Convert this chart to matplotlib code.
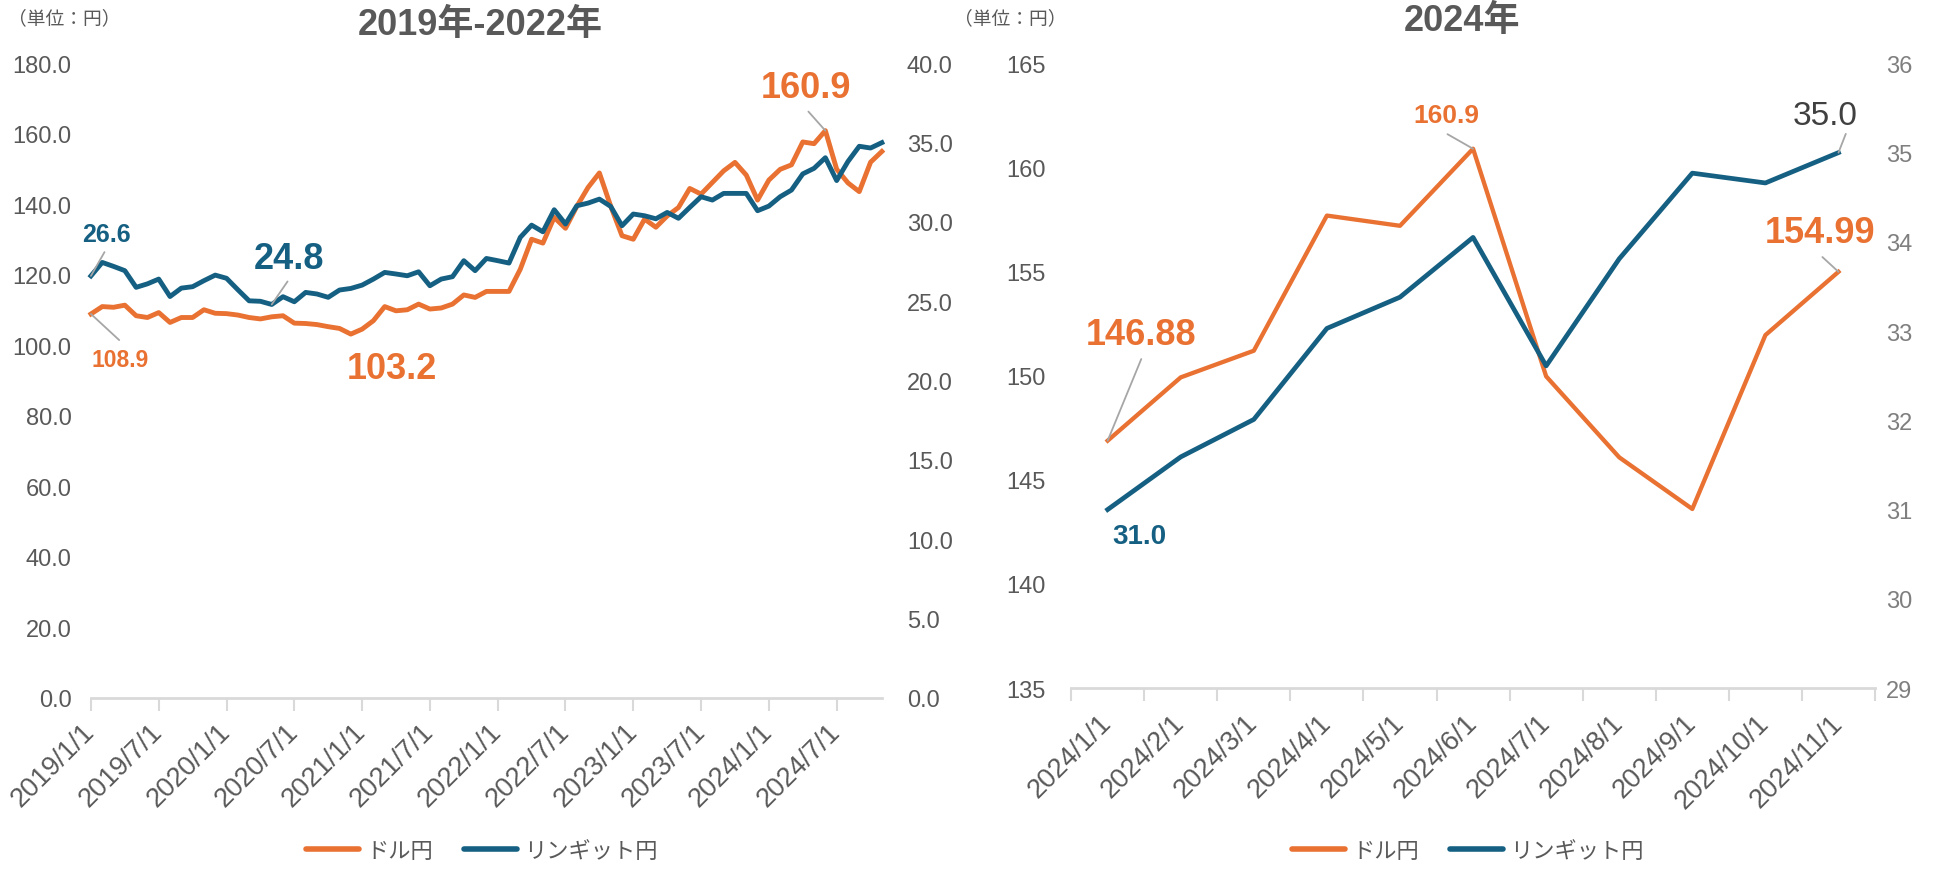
import matplotlib
matplotlib.use("Agg")
import matplotlib.pyplot as plt
from matplotlib.lines import Line2D

plt.rcParams['font.family'] = ['Liberation Sans', 'Noto Sans CJK JP']

ORANGE = '#E97132'
BLUE = '#156082'
GRAY = '#595959'
LEADER = '#A6A6A6'

# --- data: 2019/1 - 2024/11 monthly ---
long_ticks = ["2019/1/1", "2019/7/1", "2020/1/1", "2020/7/1", "2021/1/1", "2021/7/1",
              "2022/1/1", "2022/7/1", "2023/1/1", "2023/7/1", "2024/1/1", "2024/7/1"]
usd_jpy_long = [108.9, 111.0, 110.8, 111.4, 108.4, 107.9, 109.3, 106.5, 107.9, 107.9, 110.1, 109.1,
                109.0, 108.6, 107.9, 107.5, 108.1, 108.4, 106.3, 106.2, 105.9, 105.3, 104.8, 103.2,
                104.6, 107.0, 111.0, 109.8, 110.1, 111.7, 110.3, 110.6, 111.7, 114.3, 113.6, 115.3,
                115.3, 115.3, 121.6, 130.1, 129.0, 136.3, 133.2, 139.4, 144.8, 148.9, 139.5, 131.1,
                130.1, 135.8, 133.5, 136.7, 139.1, 144.5, 142.9, 146.2, 149.5, 151.9, 148.3, 141.2,
                146.88, 149.92, 151.2, 157.69, 157.2, 160.9, 149.97, 146.08, 143.6, 151.95, 154.99]
myr_jpy_long = [26.6, 27.45, 27.2, 26.93, 25.88, 26.1, 26.4, 25.3, 25.83, 25.92, 26.3, 26.65,
                26.45, 25.73, 25.03, 25.0, 24.8, 25.29, 24.97, 25.56, 25.46, 25.25, 25.71, 25.81,
                26.02, 26.4, 26.82, 26.72, 26.61, 26.86, 25.98, 26.4, 26.55, 27.56, 26.93, 27.7,
                27.56, 27.41, 29.03, 29.8, 29.38, 30.77, 29.87, 31.02, 31.19, 31.44, 30.98, 29.76,
                30.5, 30.39, 30.2, 30.6, 30.23, 30.92, 31.59, 31.38, 31.8, 31.8, 31.8, 30.71,
                31.0, 31.59, 32.01, 33.03, 33.38, 34.05, 32.61, 33.81, 34.77, 34.66, 35.0]

# --- data: 2024 ---
months_2024 = ["2024/1/1", "2024/2/1", "2024/3/1", "2024/4/1", "2024/5/1", "2024/6/1",
               "2024/7/1", "2024/8/1", "2024/9/1", "2024/10/1", "2024/11/1"]
usd_jpy_2024 = [146.88, 149.92, 151.2, 157.69, 157.2, 160.9, 149.97, 146.08, 143.6, 151.95, 154.99]
myr_jpy_2024 = [31.0, 31.59, 32.01, 33.03, 33.38, 34.05, 32.61, 33.81, 34.77, 34.66, 35.0]

fig = plt.figure(figsize=(19.39, 8.7), dpi=100)


def style_axes(ax, axr):
    for s in ['top', 'left', 'right']:
        ax.spines[s].set_visible(False)
        axr.spines[s].set_visible(False)
    axr.spines['bottom'].set_visible(False)
    ax.spines['bottom'].set_color('#D9D9D9')
    ax.spines['bottom'].set_linewidth(2)


def leader(ax, p0, p1):
    ax.annotate('', xy=p0, xytext=p1,
                arrowprops=dict(arrowstyle='-', color=LEADER, lw=1.3, shrinkA=0, shrinkB=0))


# ================= left chart =================
ax1 = fig.add_axes([0.0469, 0.1966, 0.4079, 0.7295])
ax1r = ax1.twinx()
x_long = list(range(len(usd_jpy_long)))
ax1.plot(x_long, usd_jpy_long, color=ORANGE, lw=3.5, clip_on=False, solid_joinstyle='round')
ax1r.plot(x_long, myr_jpy_long, color=BLUE, lw=3.5, clip_on=False, solid_joinstyle='round')
ax1.set_xlim(0, len(usd_jpy_long) - 1)
ax1.set_ylim(0, 180)
ax1r.set_ylim(0, 40)
ax1.set_yticks(range(0, 181, 20))
ax1.set_yticklabels([f"{v:.1f}" for v in range(0, 181, 20)])
ax1r.set_yticks([v * 5 for v in range(9)])
ax1r.set_yticklabels([f"{v * 5:.1f}" for v in range(9)])
ax1.set_xticks(range(0, len(usd_jpy_long), 6))
ax1.set_xticklabels(long_ticks, rotation=45, ha='right', va='center', rotation_mode='anchor')
style_axes(ax1, ax1r)
ax1.tick_params(axis='x', length=9, width=1.5, color='#D9D9D9', labelsize=19.5,
                labelcolor=GRAY, pad=12)
ax1.tick_params(axis='y', length=0, labelsize=17, labelcolor=GRAY, pad=14)
ax1r.tick_params(axis='y', length=0, labelsize=17, labelcolor=GRAY, pad=18)

# labels
ax1r.text(1.35, 29.25, "26.6", color=BLUE, fontsize=18, fontweight='bold', ha='center', va='center')
leader(ax1r, (0, myr_jpy_long[0]), (1.2, 28.1))
ax1.text(2.6, 96.1, "108.9", color=ORANGE, fontsize=16.5, fontweight='bold', ha='center', va='center')
leader(ax1, (0, usd_jpy_long[0]), (2.5, 101.5))
ax1r.text(17.5, 27.7, "24.8", color=BLUE, fontsize=26, fontweight='bold', ha='center', va='center')
leader(ax1r, (16, myr_jpy_long[16]), (17.4, 26.25))
ax1.text(26.6, 93.3, "103.2", color=ORANGE, fontsize=26, fontweight='bold', ha='center', va='center')
ax1.text(63.3, 173.2, "160.9", color=ORANGE, fontsize=26, fontweight='bold', ha='center', va='center')
leader(ax1, (65, usd_jpy_long[65]), (63.5, 166.3))

fig.text(0.2475, 0.971, "2019年-2022年", fontsize=26, fontweight='bold', color=GRAY,
         ha='center', va='center')
fig.text(0.004, 0.978, "（単位：円）", fontsize=13.5, color=GRAY, ha='left', va='center')

# ================= right chart =================
ax2 = fig.add_axes([0.5524, 0.2080, 0.4146, 0.7180])
ax2r = ax2.twinx()
x_24 = list(range(len(months_2024)))
ax2.plot(x_24, usd_jpy_2024, color=ORANGE, lw=3.1, solid_joinstyle='round')
ax2r.plot(x_24, myr_jpy_2024, color=BLUE, lw=3.4, solid_joinstyle='round')
ax2.set_xlim(-0.5, len(months_2024) - 0.5)
ax2.set_ylim(135, 165)
ax2r.set_ylim(29, 36)
ax2.set_yticks(range(135, 166, 5))
ax2r.set_yticks(range(29, 37))
ax2.set_xticks(x_24)
ax2.set_xticklabels(months_2024, rotation=45, ha='right', va='center', rotation_mode='anchor')
ax2.set_xticks([i - 0.5 for i in range(len(months_2024) + 1)], minor=True)
style_axes(ax2, ax2r)
ax2.tick_params(axis='x', which='major', length=0, labelsize=19.5, labelcolor=GRAY, pad=22)
ax2.tick_params(axis='x', which='minor', length=9, width=1.5, color='#D9D9D9')
ax2.tick_params(axis='y', length=0, labelsize=17, labelcolor=GRAY, pad=18)
ax2r.tick_params(axis='y', length=0, labelsize=17, labelcolor='#7F7F7F', pad=8)

ax2.text(0.46, 152.0, "146.88", color=ORANGE, fontsize=26, fontweight='bold', ha='center', va='center')
leader(ax2, (0, usd_jpy_2024[0]), (0.46, 150.8))
ax2.text(4.64, 162.5, "160.9", color=ORANGE, fontsize=19, fontweight='bold', ha='center', va='center')
leader(ax2, (5, usd_jpy_2024[5]), (4.65, 161.6))
ax2.text(9.75, 156.9, "154.99", color=ORANGE, fontsize=26, fontweight='bold', ha='center', va='center')
leader(ax2, (10, usd_jpy_2024[10]), (9.78, 155.7))
ax2r.text(9.82, 35.42, "35.0", color='#404040', fontsize=24, ha='center', va='center')
leader(ax2r, (10, myr_jpy_2024[10]), (10.1, 35.21))
ax2r.text(0.43, 30.7, "31.0", color=BLUE, fontsize=20, fontweight='bold', ha='center', va='center')

fig.text(0.754, 0.975, "2024年", fontsize=26, fontweight='bold', color=GRAY, ha='center', va='center')
fig.text(0.492, 0.978, "（単位：円）", fontsize=13.5, color=GRAY, ha='left', va='center')

# legends
handles = [Line2D([], [], color=ORANGE, lw=4, solid_capstyle='round'),
           Line2D([], [], color=BLUE, lw=4, solid_capstyle='round')]
names = ["ドル円", "リンギット円"]
for cx in (0.2485, 0.757):
    fig.legend(handles, names, loc='center', bbox_to_anchor=(cx, 0.02), ncol=2, frameon=False,
               fontsize=16, handlelength=2.4, handletextpad=0.3, columnspacing=1.4,
               labelcolor=GRAY)

fig.savefig("out.png", dpi=100)
